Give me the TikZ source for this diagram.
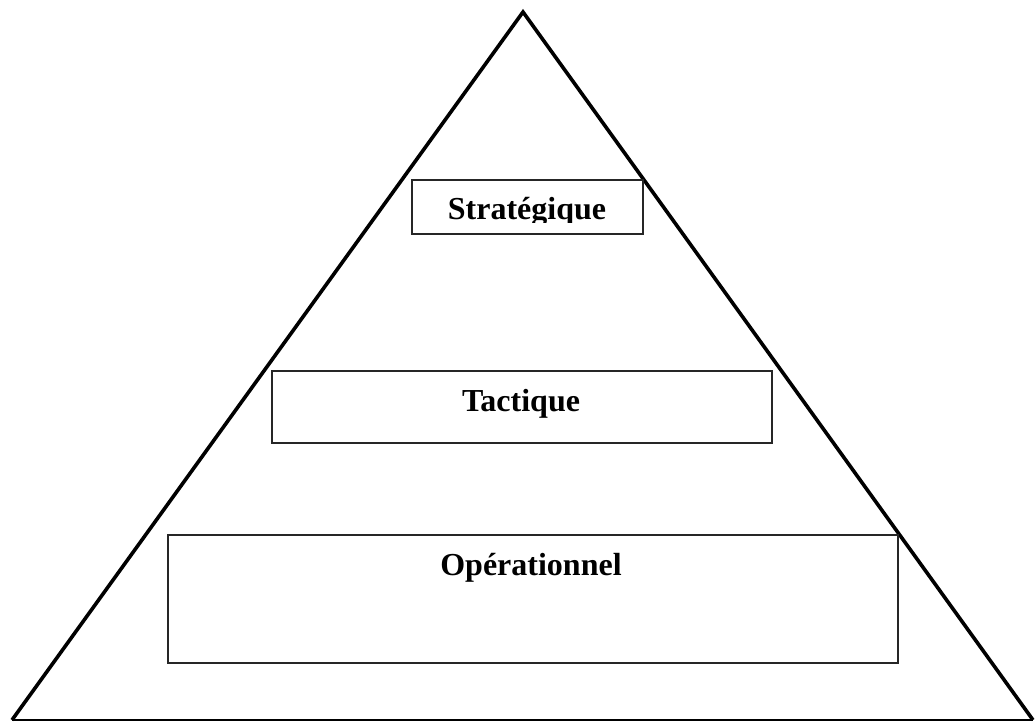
\documentclass[tikz,border=0pt]{standalone}
\usepackage{fontspec}
\setmainfont{Liberation Serif}
\begin{document}
\begin{tikzpicture}[x=1pt,y=-1pt,
  levelbox/.style={draw=black!85,line width=1.8pt,fill=white,rectangle,inner sep=0pt,anchor=north west},
  leveltext/.style={font=\fontsize{32}{38}\selectfont\bfseries,inner sep=0pt,anchor=base}]
\useasboundingbox (0,0) rectangle (1036,722);
\coordinate (apex) at (523,12);
\coordinate (bl) at (12,720);
\coordinate (br) at (1033,720);
\draw[line width=3.6pt,line join=miter] (bl) -- (apex) -- (br);
\draw[line width=2.8pt] (bl) -- (br);
\node[levelbox,minimum width=231pt,minimum height=54pt] (sbox) at (411,179) {};
\node[levelbox,minimum width=500pt,minimum height=72pt] (tbox) at (271,370) {};
\node[levelbox,minimum width=730pt,minimum height=128pt] (obox) at (167,534) {};
\begin{scope}
\clip (411,179) rectangle (642,223);
\node[leveltext] (stext) at (527,220) {Stratégique};
\end{scope}
\node[leveltext] (ttext) at (521,411) {Tactique};
\node[leveltext] (otext) at (531,575) {Opérationnel};
\end{tikzpicture}
\end{document}
